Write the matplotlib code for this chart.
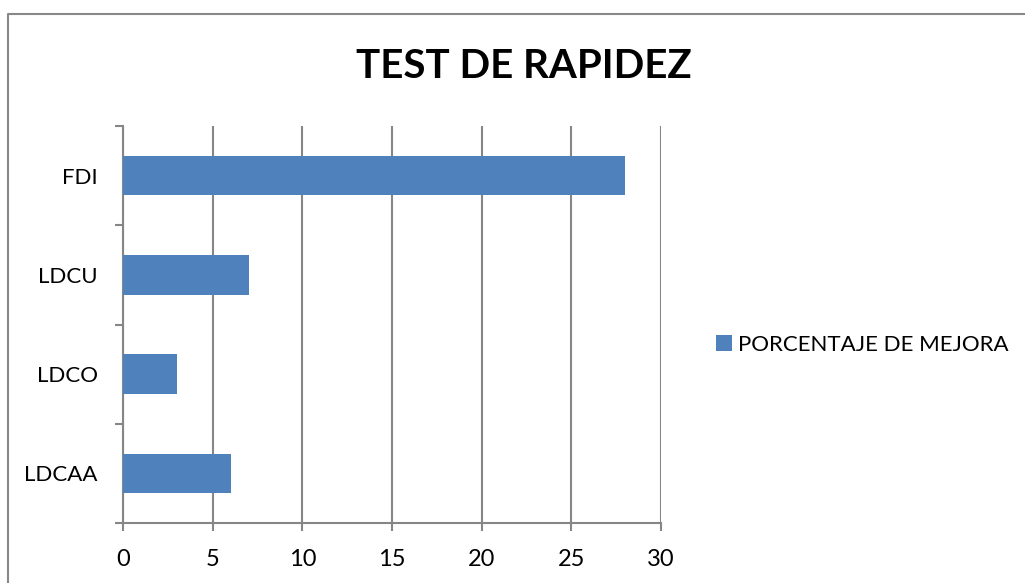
import matplotlib
matplotlib.use("Agg")
import matplotlib.pyplot as plt
from matplotlib.lines import Line2D
import numpy as np

plt.rcParams["font.family"] = ["Lato", "DejaVu Sans"]

categories = ["LDCAA", "LDCO", "LDCU", "FDI"]
values = [6, 3, 7, 28]
x_ticks = [0, 5, 10, 15, 20, 25, 30]
series_name = "PORCENTAJE DE MEJORA"
title = "TEST DE RAPIDEZ"

BAR = "#4F81BD"
GRID = "#868686"

fig = plt.figure(figsize=(10.25, 5.83), dpi=100)
ax = fig.add_axes([123 / 1025, 1 - 523 / 583, (661 - 123) / 1025, (523 - 126) / 583])

y = np.arange(len(categories))
ax.barh(y, values, height=0.4, color=BAR, label=series_name, zorder=3)

ax.set_xlim(0, 30)
ax.set_ylim(-0.5, len(categories) - 0.5)
ax.set_xticks(x_ticks)
ax.set_xticklabels([str(t) for t in x_ticks], fontsize=17)
ax.tick_params(axis="x", length=6, width=1.5, color=GRID, pad=13)

# category boundaries as major ticks, labels on minor ticks
ax.set_yticks(np.arange(-0.5, len(categories), 1.0))
ax.set_yticklabels([])
ax.tick_params(axis="y", which="major", length=6, width=1.5, color=GRID)
ax.set_yticks(y, minor=True)
ax.set_yticklabels(categories, minor=True, fontsize=16)
ax.tick_params(axis="y", which="minor", length=0, pad=18)

ax.grid(axis="x", color=GRID, linewidth=1.5, zorder=0)
for s in ["top", "right"]:
    ax.spines[s].set_visible(False)
for s in ["left", "bottom"]:
    ax.spines[s].set_color(GRID)
    ax.spines[s].set_linewidth(1.5)

fig.text(524 / 1025, 1 - 66 / 583, title, fontsize=29, fontweight="bold",
         ha="center", va="center")

leg = ax.legend(loc="center left", bbox_to_anchor=(696 / 1025, 1 - 345 / 583),
                bbox_transform=fig.transFigure, frameon=False, fontsize=16,
                handlelength=0.7, handleheight=0.7, handletextpad=0.3)

# chart area border
fig.add_artist(Line2D([8 / 1025, 8 / 1025, 1.0], [0.0, 1 - 14 / 583, 1 - 14 / 583],
                      transform=fig.transFigure, color="#888888", linewidth=1.5))

fig.savefig("out.png", dpi=100)
